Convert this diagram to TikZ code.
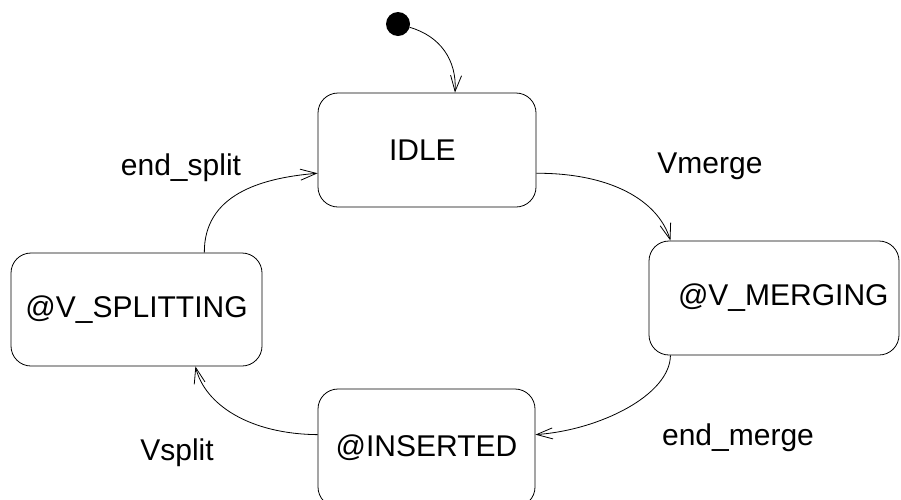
\documentclass[tikz,border=0pt]{standalone}
\usepackage{fontspec}
\setmainfont{Liberation Sans}
\usetikzlibrary{arrows.meta}

\tikzset{
  state/.style={draw, line width=0.8pt, rounded corners=20pt, inner sep=0pt, font=\fontsize{30}{36}\selectfont},
  trans/.style={line width=0.8pt, -{Straight Barb[length=16pt, width=11pt, line width=0.8pt]}},
  evt/.style={anchor=base, inner sep=0pt, font=\fontsize{30}{36}\selectfont},
  initdot/.style={circle, fill=black, inner sep=0pt, minimum size=24pt}
}

\begin{document}
\begin{tikzpicture}[x=1pt,y=1pt,yscale=-1,xscale=1]
\clip (0,0) rectangle (901,499);

%Initial state
\node [initdot] (init) at (398,24) {};

%State [id:idle]
\node [state, minimum width=218pt, minimum height=114pt, text width=76pt, align=left] (idle) at (427,150) {IDLE};
%State [id:merging]
\node [state, minimum width=250pt, minimum height=114pt, text width=229pt, align=right] (merging) at (774,298) {@V\_MERGING};
%State [id:splitting]
\node [state, minimum width=251pt, minimum height=113pt] (splitting) at (136.5,309.5) {@V\_SPLITTING};
%State [id:inserted]
\node [state, minimum width=217pt, minimum height=118pt] (inserted) at (426.5,448) {@INSERTED};

%Transitions
\draw [trans] (init) .. controls (440,36) and (457,60) .. (idle.64);
\draw [trans] (idle.-12) .. controls (610,173) and (658,200) .. (merging.151);
\draw [trans] (merging.209) .. controls (670,395) and (600,430) .. (inserted.7);
\draw [trans] (inserted.173) .. controls (250,434) and (205,405) .. (splitting.-44.5);
\draw [trans] (splitting.40) .. controls (204,195) and (260,178) .. (idle.192);

% Text Node
\node [evt] (vmerge) at (710,173) {Vmerge};
% Text Node
\node [evt] (endmerge) at (738,445) {end\_merge};
% Text Node
\node [evt] (vsplit) at (177,460) {Vsplit};
% Text Node
\node [evt] (endsplit) at (181,175) {end\_split};

\end{tikzpicture}
\end{document}
